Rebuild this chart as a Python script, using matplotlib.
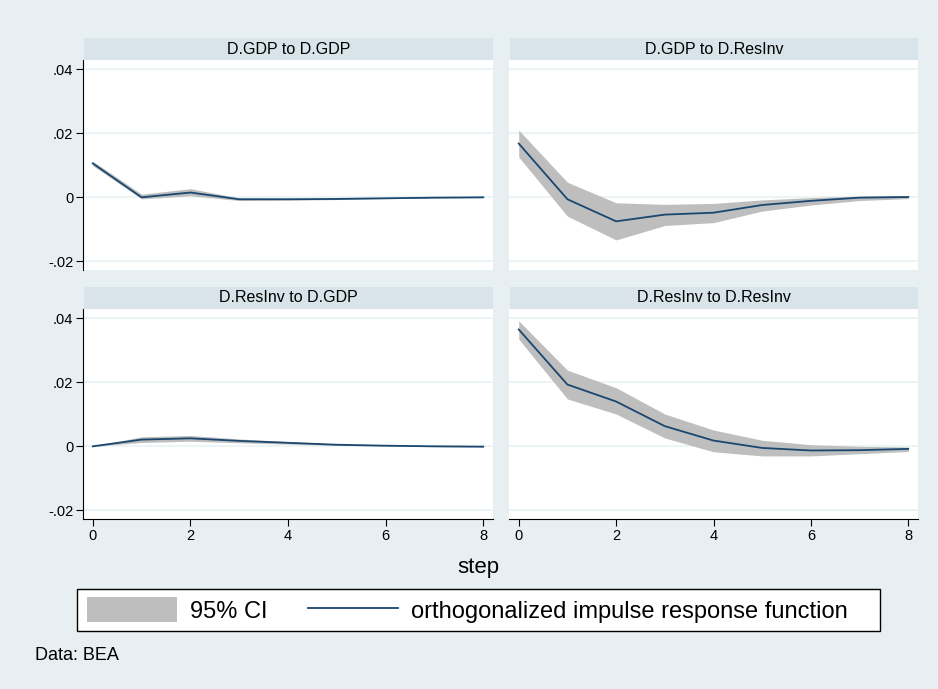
import numpy as np
import matplotlib
matplotlib.use("Agg")
import matplotlib.pyplot as plt
from matplotlib.patches import Patch, Rectangle
from matplotlib.lines import Line2D

plt.rcParams['font.family'] = ['Liberation Sans', 'DejaVu Sans']

steps = [0, 1, 2, 3, 4, 5, 6, 7, 8]

# D.GDP to D.GDP
gdp_gdp = [0.0106, 0.0000, 0.0015, -0.0006, -0.0006, -0.0005, -0.0003, -0.0001, 0.0000]
gdp_gdp_lo = [0.0099, -0.0005, 0.0005, -0.0010, -0.0009, -0.0007, -0.0004, -0.0002, -0.0001]
gdp_gdp_hi = [0.0113, 0.0010, 0.0027, -0.0002, -0.0003, -0.0003, -0.0002, 0.0000, 0.0001]

# D.GDP to D.ResInv
gdp_res = [0.0168, -0.0006, -0.0075, -0.0054, -0.0048, -0.0024, -0.0011, -0.0001, 0.0001]
gdp_res_lo = [0.0126, -0.0059, -0.0133, -0.0088, -0.0079, -0.0043, -0.0024, -0.0010, -0.0004]
gdp_res_hi = [0.0210, 0.0047, -0.0017, -0.0022, -0.0019, -0.0008, -0.0001, 0.0004, 0.0005]

# D.ResInv to D.GDP
res_gdp = [0.0000, 0.0021, 0.0025, 0.0017, 0.0011, 0.0005, 0.0002, 0.0000, -0.0001]
res_gdp_lo = [0.0000, 0.0012, 0.0016, 0.0011, 0.0007, 0.0003, 0.0001, -0.0001, -0.0002]
res_gdp_hi = [0.0000, 0.0030, 0.0034, 0.0023, 0.0015, 0.0007, 0.0003, 0.0001, 0.0000]

# D.ResInv to D.ResInv
res_res = [0.0365, 0.0193, 0.0140, 0.0063, 0.0018, -0.0005, -0.0013, -0.0012, -0.0008]
res_res_lo = [0.0335, 0.0148, 0.0101, 0.0026, -0.0017, -0.0030, -0.0030, -0.0023, -0.0016]
res_res_hi = [0.0392, 0.0238, 0.0183, 0.0101, 0.0051, 0.0019, 0.0005, 0.0000, -0.0002]

titles = ["D.GDP to D.GDP", "D.GDP to D.ResInv", "D.ResInv to D.GDP", "D.ResInv to D.ResInv"]
y_ticks = [-0.02, 0, 0.02, 0.04]
y_labels = ["-.02", "0", ".02", ".04"]
x_ticks = [0, 2, 4, 6, 8]

bg = "#e7eff2"
strip = "#d8e4ea"
navy = "#1a476f"
ci_gray = "#bebebe"

W, H = 938, 689
fig = plt.figure(figsize=(9.38, 6.89), dpi=100, facecolor=bg)


def fx(px):
    return px / W


def fy(px):
    return 1 - px / H


panels = [
    (gdp_gdp, gdp_gdp_lo, gdp_gdp_hi),
    (gdp_res, gdp_res_lo, gdp_res_hi),
    (res_gdp, res_gdp_lo, res_gdp_hi),
    (res_res, res_res_lo, res_res_hi),
]
lefts = [83, 509]
widths = [410, 409]
tops = [60, 309]
ph = 210

for i, (mid, lo, hi) in enumerate(panels):
    row, col = divmod(i, 2)
    l = lefts[col]
    t = tops[row]
    ax = fig.add_axes([fx(l), fy(t + ph), widths[col] / W, ph / H])
    ax.set_facecolor("white")
    ax.fill_between(steps, lo, hi, color=ci_gray, lw=0)
    ax.plot(steps, mid, color=navy, lw=1.3)
    ax.set_xlim(-0.2, 8.2)
    ax.set_ylim(-0.0227, 0.0429)
    ax.set_yticks(y_ticks)
    ax.yaxis.grid(True, color="#eaf2f3", lw=1.2)
    ax.set_axisbelow(True)
    for s in ["top", "right"]:
        ax.spines[s].set_visible(False)
    if col == 0:
        ax.set_yticklabels(y_labels, fontsize=10.5)
        ax.tick_params(axis="y", length=5, width=0.8, pad=2)
    else:
        ax.spines["left"].set_visible(False)
        ax.tick_params(axis="y", length=0, labelleft=False)
    if row == 1:
        ax.set_xticks(x_ticks)
        ax.set_xticklabels([str(v) for v in x_ticks], fontsize=10.5)
        ax.tick_params(axis="x", length=5, width=0.8, pad=2)
    else:
        ax.spines["bottom"].set_visible(False)
        ax.set_xticks([])

    # title strip
    sax = fig.add_axes([fx(l + 1), fy(t), (widths[col] - 1) / W, 22 / H])
    sax.set_facecolor(strip)
    sax.set_xticks([])
    sax.set_yticks([])
    for s in sax.spines.values():
        s.set_visible(False)
    sax.text(0.5, 0.5, titles[i], ha="center", va="center", fontsize=11.5,
             transform=sax.transAxes)

fig.text(fx(478), fy(567), "step", ha="center", va="center", fontsize=16)

# legend box
box = Rectangle((fx(77), fy(631)), fx(880) - fx(77), fy(589) - fy(631),
                transform=fig.transFigure, facecolor="white",
                edgecolor="black", lw=1.0, zorder=1)
fig.patches.append(box)

handles = [Patch(facecolor=ci_gray, edgecolor="none"),
           Line2D([], [], color=navy, lw=1.3)]
labels = ["95% CI", "orthogonalized impulse response function"]
leg = fig.legend(handles, labels, loc="center left", ncol=2,
                 bbox_to_anchor=(fx(68), fy(610)),
                 fontsize=17, frameon=False,
                 handlelength=3.8, handleheight=1.2,
                 columnspacing=1.75, handletextpad=0.55, borderpad=0.3)

fig.text(fx(35), fy(655), "Data: BEA", ha="left", va="center", fontsize=13)

fig.savefig("out.png", dpi=100, facecolor=bg)
